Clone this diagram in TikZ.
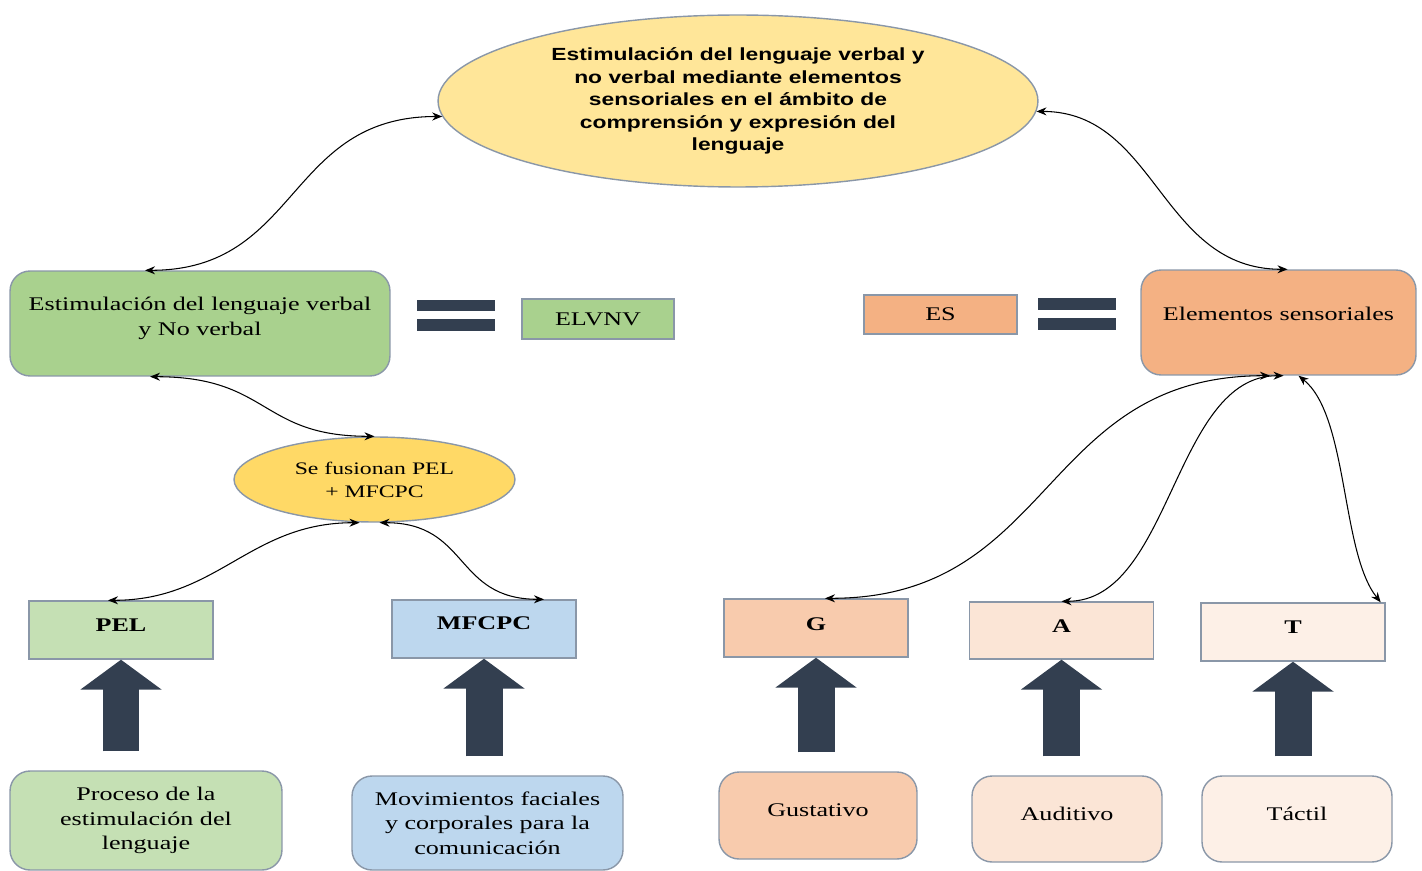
\documentclass[tikz,border=0pt]{standalone}
\usepackage{fontspec}
\setmainfont[FakeStretch=1.35]{Liberation Serif}
\newfontfamily\arialbf[FakeStretch=1.3]{Liberation Sans}
\usetikzlibrary{arrows, arrows.meta}
\usetikzlibrary{calc}
\usetikzlibrary{shapes.geometric}

\definecolor{borde}{HTML}{8A97A8}
\definecolor{azuloscuro}{HTML}{333F50}
\definecolor{amarillo}{HTML}{FFE699}
\definecolor{dorado}{HTML}{FFD966}
\definecolor{verde}{HTML}{A9D18E}
\definecolor{verdeclaro}{HTML}{C5E0B4}
\definecolor{celeste}{HTML}{BDD7EE}
\definecolor{naranja}{HTML}{F4B183}
\definecolor{salmon}{HTML}{F8CBAD}
\definecolor{piel}{HTML}{FBE5D6}
\definecolor{pielclaro}{HTML}{FDF0E7}

\begin{document}
\begin{tikzpicture}[x=0.02cm, y=-0.02cm,
    caja/.style={draw=borde, line width=0.8pt, align=center, inner sep=0pt, font=\fontsize{11}{14}\selectfont},
    redonda/.style={caja, rounded corners=0.4cm},
    ovalo/.style={caja, ellipse},
    letra/.style={caja, minimum width=3.68cm, minimum height=1.16cm, font=\fontsize{11}{14}\selectfont\bfseries},
    subir/.style={text height=7.5pt, text depth=#1},
    enlace/.style={{Stealth[length=2mm, width=1.6mm]}-{Stealth[length=2mm, width=1.6mm]}, line width=0.6pt},
    bloque/.style={-{Triangle[width=1.6cm, length=0.6cm]}, azuloscuro, line width=0.74cm, shorten <=0.38cm}]
    \useasboundingbox (0,0) rectangle (1422,871);

    \node[ovalo, fill=amarillo, minimum width=12cm, minimum height=3.44cm, font=\arialbf\bfseries\fontsize{10}{12.8}\selectfont] (obj) at (738,101) {Estimulación del lenguaje verbal y\\no verbal mediante elementos\\sensoriales en el ámbito de\\comprensión y expresión del\\lenguaje};

    \node[redonda, fill=verde, minimum width=7.6cm, minimum height=2.1cm, text depth=8pt] (elv) at (200,323.5) {Estimulación del lenguaje verbal\\y No verbal};
    \node[caja, fill=verde, minimum width=3.04cm, minimum height=0.8cm] (elvnv) at (598,319) {ELVNV};
    \node[caja, fill=naranja, minimum width=3.06cm, minimum height=0.78cm] (es) at (940.5,314.5) {ES};
    \node[redonda, fill=naranja, minimum width=5.5cm, minimum height=2.1cm, subir=9.3pt] (elem) at (1278.5,322.5) {Elementos sensoriales};

    \fill[azuloscuro] (417,300) rectangle (495,311);
    \fill[azuloscuro] (417,319) rectangle (495,331);
    \fill[azuloscuro] (1038,298) rectangle (1116,310);
    \fill[azuloscuro] (1038,318) rectangle (1116,330);

    \node[ovalo, fill=dorado, minimum width=5.62cm, minimum height=1.7cm, font=\fontsize{10}{13}\selectfont] (fus) at (374.5,479.5) {Se fusionan PEL\\+ MFCPC};

    \node[letra, fill=verdeclaro, subir=5.9pt] (pel) at (121,630) {PEL};
    \node[letra, fill=celeste, subir=7.1pt] (mfcpc) at (484,629) {MFCPC};
    \node[letra, fill=salmon, subir=4.9pt] (letG) at (816,628) {G};
    \node[letra, fill=piel, minimum height=1.14cm, subir=4.9pt] (letA) at (1061.5,630.5) {A};
    \node[letra, fill=pielclaro, subir=5.9pt] (letT) at (1293,632) {T};

    \node[redonda, fill=verdeclaro, minimum width=5.44cm, minimum height=1.98cm] (proc) at (146,820.5) {Proceso de la\\estimulación del\\lenguaje};
    \node[redonda, fill=celeste, minimum width=5.42cm, minimum height=1.88cm] (mov) at (487.5,823) {Movimientos faciales\\y corporales para la\\comunicación};
    \node[redonda, fill=salmon, minimum width=3.96cm, minimum height=1.74cm, subir=5.9pt] (gust) at (818,815.5) {Gustativo};
    \node[redonda, fill=piel, minimum width=3.8cm, minimum height=1.72cm, subir=5.9pt] (aud) at (1067,819) {Auditivo};
    \node[redonda, fill=pielclaro, minimum width=3.8cm, minimum height=1.72cm, subir=5.9pt] (tact) at (1297,819) {Táctil};

    \draw[enlace] (obj.183) .. controls +(-156,0) and +(155,0) .. ([xshift=-1.1cm]elv.north);
    \draw[enlace] (obj.-2) .. controls +(120,0) and +(-127,0) .. ([xshift=0.18cm]elem.north);
    \draw[enlace] ([xshift=-1cm]elv.south) .. controls +(120,0) and +(-115,0) .. (fus.north);
    \draw[enlace] ([xshift=-0.3cm]fus.south) .. controls +(-110,0) and +(110,0) .. ([xshift=-0.26cm]pel.north);
    \draw[enlace] ([xshift=0.1cm]fus.south) .. controls +(90,0) and +(-90,0) .. ([xshift=1.2cm]mfcpc.north);
    \draw[enlace] ([xshift=-0.17cm]elem.south) .. controls +(-230,0) and +(230,0) .. ([xshift=0.18cm]letG.north);
    \draw[enlace] ([xshift=0.1cm]elem.south) .. controls +(-110,0) and +(110,0) .. (letA.north);
    \draw[enlace] ([xshift=0.4cm]elem.south) .. controls +(50,40) and +(-40,-50) .. ([xshift=-0.1cm]letT.north east);

    \draw[bloque] (pel.south |- proc.north) -- (pel.south);
    \draw[bloque] (mfcpc.south |- mov.north) -- (mfcpc.south);
    \draw[bloque] (letG.south |- gust.north) -- (letG.south);
    \draw[bloque] (letA.south |- aud.north) -- (letA.south);
    \draw[bloque] (letT.south |- tact.north) -- (letT.south);
\end{tikzpicture}
\end{document}
